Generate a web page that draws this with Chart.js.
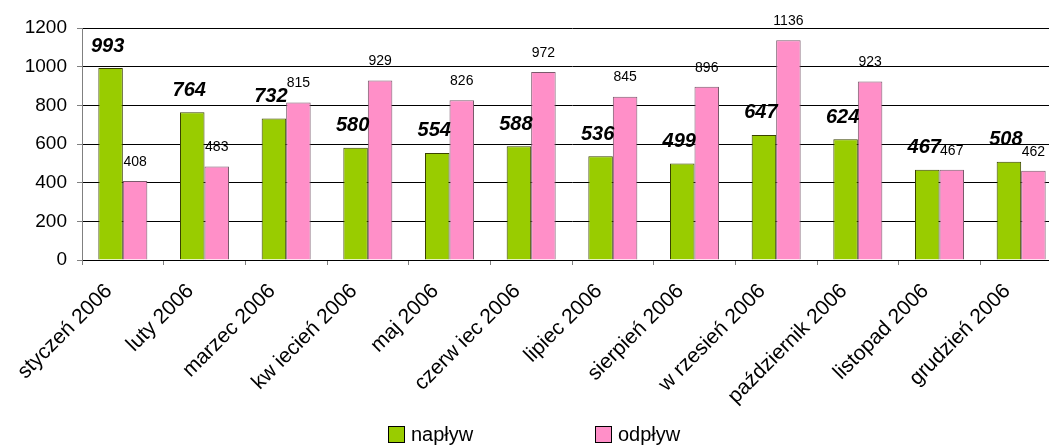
<!DOCTYPE html>
<html>
<head>
<meta charset="utf-8">
<script src="https://cdn.jsdelivr.net/npm/chart.js@4.4.1/dist/chart.umd.min.js"></script>
<style>
html,body{margin:0;padding:0;background:#fff;overflow:hidden;width:1049px;height:446px;}
#wrap{position:relative;width:1062px;height:446px;}
.leg{position:absolute;top:423px;font:20px "Liberation Sans",Arial,sans-serif;color:#000;display:flex;align-items:center;}
.leg span.box{display:inline-block;width:15px;height:15px;border:1px solid #000;margin-right:6px;}
</style>
</head>
<body>
<div id="wrap">
<canvas id="c" width="1062" height="446"></canvas>
<div class="leg" style="left:388px"><span class="box" style="background:#99cc00"></span>napływ</div>
<div class="leg" style="left:595px"><span class="box" style="background:#ff8fc8"></span>odpływ</div>
</div>
<script>

// dane
let months=["styczeń 2006","luty 2006","marzec 2006","kw iecień 2006","maj 2006","czerw iec 2006",
"lipiec 2006","sierpień 2006","w rzesień 2006","październik 2006","listopad 2006","grudzień 2006"];
let naplyw=[993,764,732,580,554,588,536,499,647,624,467,508];
let odplyw=[408,483,815,929,826,972,845,896,1136,923,467,462];
let yTicks=[0,200,400,600,800,1000,1200];

const font="'Liberation Sans', Arial, sans-serif";

// etykiety nad słupkami
const valueLabels={
id:"valueLabels",
afterDatasetsDraw(chart){
let ctx=chart.ctx;
ctx.save();
ctx.fillStyle="#000";
ctx.textAlign="center";
ctx.textBaseline="middle";
chart.getDatasetMeta(0).data.forEach((bar,i)=>{
ctx.font="italic bold 20px "+font;
ctx.fillText(naplyw[i],bar.x-3,bar.y-22);
});
chart.getDatasetMeta(1).data.forEach((bar,i)=>{
ctx.font="14px "+font;
ctx.fillText(odplyw[i],bar.x,bar.y-19);
});
ctx.restore();
}
};

new Chart(document.getElementById("c"),{
type:"bar",
data:{
labels:months,
datasets:[
{label:"napływ",data:naplyw,backgroundColor:"#99cc00",borderColor:"#3a4200",borderWidth:1,
categoryPercentage:0.6,barPercentage:1},
{label:"odpływ",data:odplyw,backgroundColor:"#ff8fc8",borderColor:"#7a5a6c",borderWidth:1,
categoryPercentage:0.6,barPercentage:1}
]
},
options:{
responsive:false,
animation:false,
layout:{padding:{top:28,left:0,right:0,bottom:0}},
plugins:{legend:{display:false},tooltip:{enabled:false}},
scales:{
x:{
afterFit(s){s.height=186;},
grid:{offset:true,drawOnChartArea:false,tickLength:5,color:"#808080"},
border:{color:"#000"},
ticks:{font:{family:font,size:21},color:"#000",maxRotation:45,minRotation:45,labelOffset:-14,padding:14}
},
y:{
min:0,max:1200,
afterFit(s){s.width=82;},
afterBuildTicks(s){s.ticks=yTicks.map(v=>({value:v}));},
grid:{color:"#000",tickColor:"#808080",tickLength:5},
border:{color:"#808080"},
ticks:{font:{family:font,size:19},color:"#000",padding:10,callback:v=>String(v)}
}
}
},
plugins:[valueLabels]
});

</script>
</body>
</html>
